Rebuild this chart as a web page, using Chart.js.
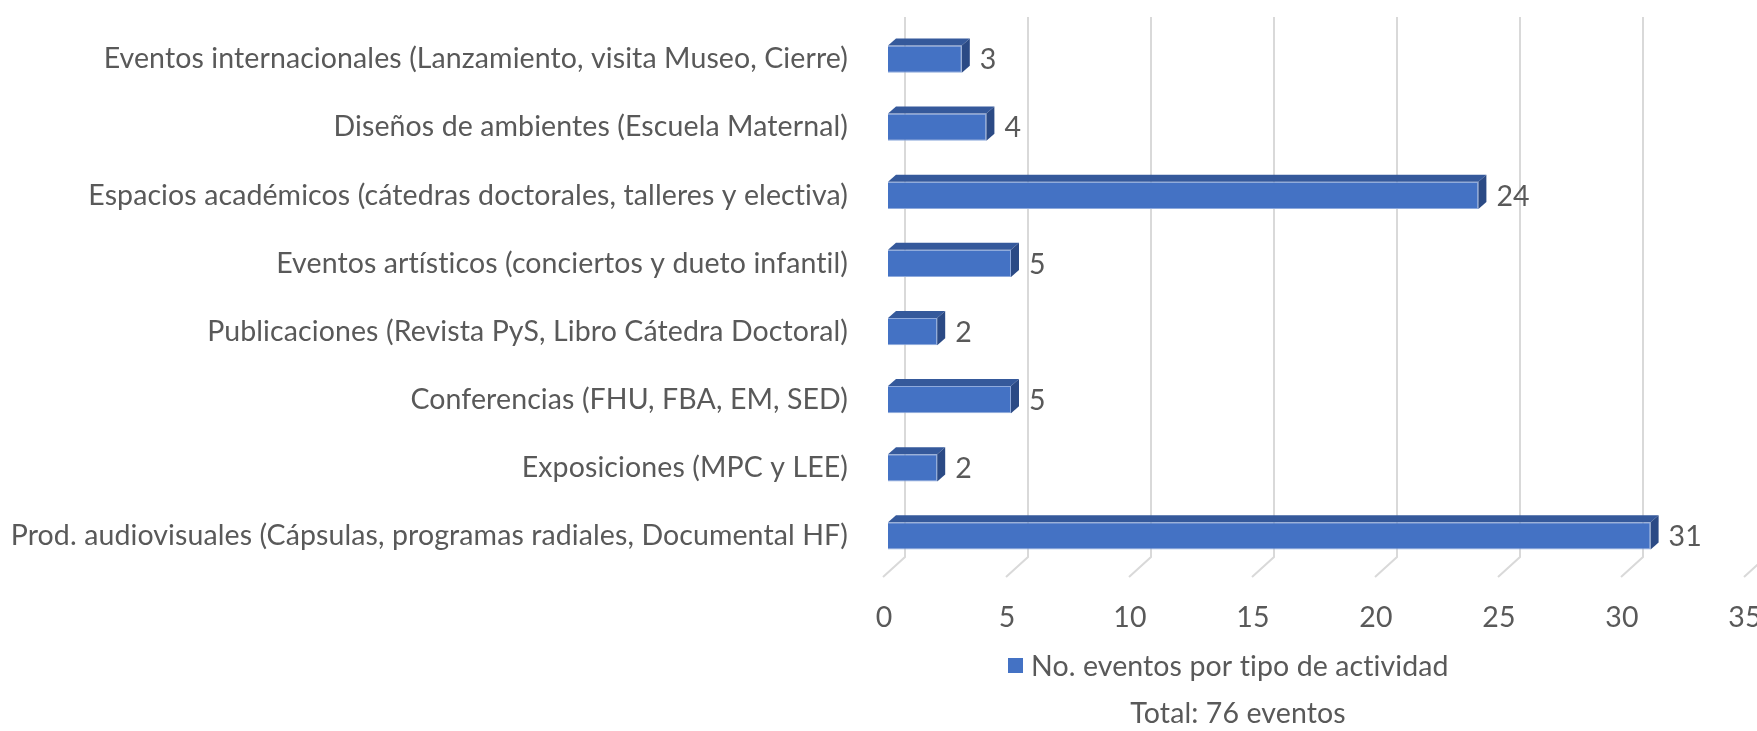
<!DOCTYPE html>
<html><head><meta charset="utf-8">
<script src="https://cdn.jsdelivr.net/npm/chart.js@4.4.1/dist/chart.umd.min.js"></script>
<style>html,body{margin:0;padding:0;background:#fff;}#wrap{width:1757px;height:731px;position:relative;}</style>
</head><body><div id="wrap"><canvas id="c" width="1757" height="731"></canvas></div>
<script>
const categories = [
  "Eventos internacionales (Lanzamiento, visita Museo, Cierre)",
  "Diseños de ambientes (Escuela Maternal)",
  "Espacios académicos (cátedras doctorales, talleres y electiva)",
  "Eventos artísticos (conciertos y dueto infantil)",
  "Publicaciones (Revista PyS, Libro Cátedra Doctoral)",
  "Conferencias (FHU, FBA, EM, SED)",
  "Exposiciones (MPC y LEE)",
  "Prod. audiovisuales (Cápsulas, programas radiales, Documental HF)"
];
const eventCounts = [3, 4, 24, 5, 2, 5, 2, 31];
const seriesName = "No. eventos por tipo de actividad";
const totalLabel = "Total: 76 eventos";
const xTicks = [0, 5, 10, 15, 20, 25, 30, 35];

const FONT = 'Lato, "Open Sans", sans-serif';
const FSIZE = 28.5;
const TXT = '#595959';
const DX = 8, DY = 7, BACK = 17;

const threeD = {
  id: 'threeD',
  beforeDraw(chart) {
    try { chart.ctx.letterSpacing = '0.1px'; } catch (e) {}
  },
  beforeDatasetsDraw(chart) {
    const ctx = chart.ctx, xs = chart.scales.x, a = chart.chartArea;
    ctx.save();
    ctx.strokeStyle = '#D9D9D9'; ctx.lineWidth = 2;
    for (const v of xTicks) {
      const px = xs.getPixelForValue(v);
      ctx.beginPath();
      ctx.moveTo(px + BACK, a.top - 8);
      ctx.lineTo(px + BACK, a.bottom - 13);
      ctx.lineTo(px - 5, a.bottom + 7);
      ctx.stroke();
    }
    ctx.fillStyle = TXT; ctx.font = FSIZE + 'px ' + FONT; ctx.textAlign = 'center'; ctx.textBaseline = 'middle';
    for (const v of xTicks) ctx.fillText(String(v), xs.getPixelForValue(v) - 4, a.bottom + 48);
    ctx.restore();
  },
  afterDatasetsDraw(chart) {
    const ctx = chart.ctx;
    const meta = chart.getDatasetMeta(0);
    ctx.save();
    meta.data.forEach((bar, i) => {
      const p = bar.getProps(['x', 'y', 'base', 'height'], true);
      const top = p.y - p.height / 2, bot = p.y + p.height / 2;
      ctx.fillStyle = '#35599B';
      ctx.beginPath();
      ctx.moveTo(p.base, top); ctx.lineTo(p.x, top); ctx.lineTo(p.x + DX, top - DY); ctx.lineTo(p.base + DX, top - DY); ctx.closePath(); ctx.fill();
      ctx.fillStyle = '#2B4A85';
      ctx.beginPath();
      ctx.moveTo(p.x, top); ctx.lineTo(p.x + DX, top - DY); ctx.lineTo(p.x + DX, bot - DY); ctx.lineTo(p.x, bot); ctx.closePath(); ctx.fill();
      ctx.fillStyle = TXT; ctx.font = FSIZE + 'px ' + FONT; ctx.textAlign = 'left'; ctx.textBaseline = 'middle';
      ctx.fillText(String(eventCounts[i]), p.x + 18, p.y + 1);
    });
    ctx.fillStyle = '#4472C4';
    ctx.fillRect(1008, 658, 15, 15);
    ctx.fillStyle = TXT; ctx.textAlign = 'left';
    ctx.fillText(seriesName, 1031, 667);
    ctx.textAlign = 'center';
    ctx.fillText(totalLabel, 1238, 714);
    ctx.restore();
  }
};

new Chart(document.getElementById('c'), {
  type: 'bar',
  data: { labels: categories, datasets: [{ label: seriesName, data: eventCounts, backgroundColor: '#4472C4', borderColor: '#8FAADC', borderWidth: 1, categoryPercentage: 0.4, barPercentage: 1 }] },
  options: {
    indexAxis: 'y', responsive: false, animation: false,
    layout: { padding: { top: 25, bottom: 161, right: 8, left: 0 } },
    plugins: { legend: { display: false }, tooltip: { enabled: false } },
    scales: {
      x: { min: 0, max: 35, ticks: { display: false, stepSize: 5 }, grid: { display: false }, border: { display: false },
        afterFit(s) { s.height = 0; s.paddingLeft = 0; s.paddingRight = 0; } },
      y: {
        grid: { display: false }, border: { display: false },
        ticks: { color: TXT, font: { family: FONT, size: FSIZE }, padding: 32 },
        afterFit(s) { s.width = 888; s.paddingTop = 0; s.paddingBottom = 0; }
      }
    }
  },
  plugins: [threeD]
});
</script></body></html>
